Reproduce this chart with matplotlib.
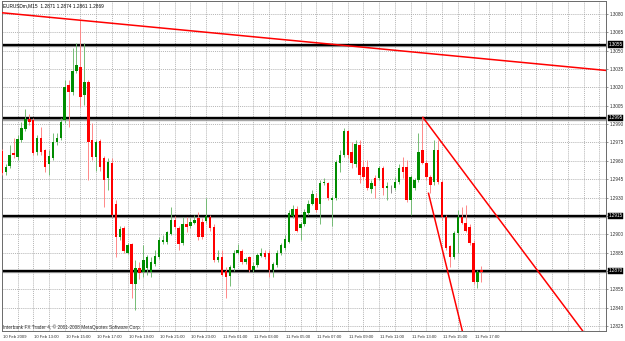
import matplotlib
matplotlib.use('Agg')
import matplotlib.pyplot as plt
import matplotlib.transforms as mtrans
import matplotlib.patheffects as pe
import numpy as np
import pandas as pd

# ---- data (EURUSDm, M15, starting 10 Feb 2009 11:00) ----
opens = [1.2968,1.2951,1.2956,1.2966,1.2963,1.2977,1.2986,1.2994,1.2993,1.2967,
         1.2979,1.2969,1.2957,1.2962,1.2975,1.2979,1.2993,1.3022,1.3016,1.3033,
         1.3037,1.3014,1.3024,1.2977,1.2963,1.2976,1.2962,1.2946,1.2958,1.2925,
         1.2898,1.2905,1.2885,1.2892,1.2859,1.2872,1.2869,1.2872,1.2869,1.2876,
         1.2881,1.2894,1.2894,1.2900,1.2912,1.2905,1.2893,1.2908,1.2907,1.2909,
         1.2913,1.2910,1.2911,1.2914,1.2906,1.2879,1.2881,1.2870,1.2866,1.2872,
         1.2885,1.2886,1.2877,1.2881,1.2871,1.2875,1.2882,1.2885,1.2885,1.2871,
         1.2875,1.2885,1.2889,1.2894,1.2915,1.2921,1.2905,1.2908,1.2917,1.2925,
         1.2930,1.2925,1.2942,1.2942,1.2928,1.2930,1.2958,1.2965,1.2984,1.2967,
         1.2957,1.2973,1.2955,1.2955,1.2937,1.2946,1.2946,1.2954,1.2938,1.2939,
         1.2938,1.2943,1.2955,1.2955,1.2928,1.2938,1.2944,1.2969,1.2958,1.2947,
         1.2943,1.2969,1.2943,1.2914,1.2890,1.2881,1.2901,1.2914,1.2909,1.2906,
         1.2893,1.2861,1.2871]
highs = [1.2970,1.2957,1.2973,1.2979,1.2981,1.2992,1.3002,1.2998,1.2995,1.2981,
         1.2988,1.2970,1.2969,1.2983,1.2983,1.2995,1.3026,1.3026,1.3052,1.3056,
         1.3075,1.3056,1.3026,1.2991,1.2977,1.2978,1.2964,1.2962,1.2962,1.2928,
         1.2907,1.2907,1.2893,1.2893,1.2879,1.2877,1.2891,1.2883,1.2881,1.2887,
         1.2898,1.2899,1.2903,1.2922,1.2915,1.2907,1.2914,1.2914,1.2913,1.2916,
         1.2918,1.2913,1.2930,1.2916,1.2908,1.2887,1.2887,1.2873,1.2875,1.2887,
         1.2892,1.2888,1.2881,1.2882,1.2877,1.2885,1.2889,1.2887,1.2887,1.2877,
         1.2887,1.2893,1.2899,1.2920,1.2924,1.2923,1.2910,1.2921,1.2928,1.2936,
         1.2934,1.2944,1.2946,1.2943,1.2931,1.2961,1.2969,1.2987,1.2985,1.2975,
         1.2977,1.2977,1.2961,1.2961,1.2944,1.2948,1.2956,1.2956,1.2943,1.2940,
         1.2947,1.2957,1.2963,1.2961,1.2948,1.2946,1.2983,1.2996,1.2961,1.2948,
         1.2977,1.2977,1.2944,1.2916,1.2891,1.2903,1.2920,1.2922,1.2924,1.2908,
         1.2895,1.2871,1.2874]
lows = [1.2948,1.2948,1.2954,1.2962,1.2961,1.2975,1.2984,1.2989,1.2965,1.2965,
        1.2965,1.2951,1.2948,1.2961,1.2973,1.2977,1.2991,1.2988,1.3014,1.3032,
        1.3004,1.3006,1.2944,1.2961,1.2952,1.2952,1.2922,1.2936,1.2914,1.2881,
        1.2895,1.2885,1.2884,1.2848,1.2838,1.2863,1.2865,1.2867,1.2865,1.2874,
        1.2880,1.2892,1.2892,1.2899,1.2904,1.2887,1.2891,1.2902,1.2905,1.2908,
        1.2895,1.2896,1.2909,1.2903,1.2877,1.2877,1.2866,1.2848,1.2858,1.2870,
        1.2884,1.2876,1.2876,1.2869,1.2869,1.2873,1.2881,1.2880,1.2865,1.2865,
        1.2873,1.2883,1.2887,1.2893,1.2913,1.2902,1.2895,1.2907,1.2916,1.2924,
        1.2918,1.2908,1.2940,1.2928,1.2907,1.2928,1.2951,1.2963,1.2962,1.2954,
        1.2955,1.2942,1.2944,1.2936,1.2934,1.2930,1.2944,1.2932,1.2928,1.2934,
        1.2936,1.2941,1.2946,1.2926,1.2916,1.2936,1.2943,1.2957,1.2944,1.2934,
        1.2940,1.2941,1.2912,1.2887,1.2873,1.2880,1.2885,1.2908,1.2902,1.2891,
        1.2859,1.2856,1.2861]
closes = [1.2950,1.2955,1.2965,1.2965,1.2978,1.2987,1.2994,1.2992,1.2966,1.2979,
          1.2967,1.2955,1.2964,1.2975,1.2979,1.2992,1.3020,1.3016,1.3033,1.3038,
          1.3012,1.3024,1.2975,1.2963,1.2975,1.2955,1.2944,1.2959,1.2916,1.2898,
          1.2904,1.2886,1.2891,1.2859,1.2872,1.2868,1.2879,1.2881,1.2877,1.2882,
          1.2895,1.2895,1.2902,1.2912,1.2906,1.2892,1.2908,1.2906,1.2910,1.2912,
          1.2898,1.2898,1.2915,1.2905,1.2879,1.2881,1.2867,1.2865,1.2873,1.2885,
          1.2887,1.2877,1.2880,1.2871,1.2874,1.2883,1.2885,1.2881,1.2871,1.2876,
          1.2885,1.2891,1.2896,1.2917,1.2921,1.2903,1.2908,1.2918,1.2925,1.2933,
          1.2920,1.2942,1.2943,1.2930,1.2930,1.2959,1.2965,1.2984,1.2965,1.2958,
          1.2974,1.2948,1.2947,1.2938,1.2942,1.2939,1.2954,1.2938,1.2939,1.2939,
          1.2943,1.2954,1.2951,1.2928,1.2947,1.2944,1.2967,1.2958,1.2947,1.2940,
          1.2969,1.2943,1.2914,1.2889,1.2881,1.2901,1.2914,1.2909,1.2903,1.2893,
          1.2861,1.2869,1.2869]

start_time = "2009-02-10 11:00"
h_levels = [1.3055, 1.2995, 1.2915, 1.2870]
price_ticks = [1.2825, 1.2840, 1.2855, 1.2870, 1.2885, 1.2900, 1.2915, 1.2930, 1.2945,
               1.2960, 1.2975, 1.2990, 1.3005, 1.3020, 1.3035, 1.3050, 1.3065, 1.3080]
# trend lines: (bar index, price) anchors
trend_a = [(0, 1.3081), (150, 1.3035)]
trend_b = [(107, 1.2996), (148, 1.2820)]
trend_c = [(108.5, 1.2934), (117.3, 1.2819)]
header = "EURUSDm,M15  1.2871 1.2874 1.2861 1.2869"
footer = "Interbank FX Trader 4, \u00a9 2001-2008 MetaQuotes Software Corp."

# ---- figure ----
W, H = 625, 341
fig = plt.figure(figsize=(W / 100, H / 100), dpi=100)
fig.patch.set_facecolor('white')
ax = fig.add_axes([2 / W, 10 / H, 604 / W, 330 / H])
ax.set_facecolor('white')

O = np.array(opens); Hh = np.array(highs); L = np.array(lows); C = np.array(closes)
n = len(O)
idx = np.arange(n)

XMAX = 153.7
ax.set_xlim(0.05, XMAX)
ax.set_ylim(1.28209, 1.30906)

# grid
grid_kw = dict(color='#9a9a9a', lw=0.5, ls=(0, (1.5, 1.5)), zorder=0)
for p in price_ticks:
    ax.axhline(p, **grid_kw)
for i in range(4, int(XMAX) + 1, 4):
    ax.axvline(i, **grid_kw)

# horizontal levels
for p in h_levels:
    ax.axhline(p, color='black', lw=1.7, zorder=2,
               path_effects=[pe.SimpleLineShadow(offset=(0, -1.1), shadow_color='#909090', alpha=0.8),
                             pe.Normal()])

# candles
up = C > O
dn = C < O
wick_col = np.where(up, '#6cb86c', np.where(dn, '#ff8080', '#808080'))
body_col = np.where(up, '#008c00', np.where(dn, '#ff0000', '#606060'))
ax.vlines(idx, L, Hh, colors=wick_col, lw=0.65, zorder=3)
bot = np.minimum(O, C)
hgt = np.maximum(np.abs(C - O), 0.00004)
ax.bar(idx, hgt, bottom=bot, width=0.62, color=body_col, linewidth=0, zorder=4)

# trend lines
def seg(anchors, x_from, x_to):
    (x0, y0), (x1, y1) = anchors
    s = (y1 - y0) / (x1 - x0)
    xs = np.array([x_from, x_to])
    return xs, y0 + s * (xs - x0)

for anchors, xf, xt in [(trend_a, -2, XMAX + 2), (trend_b, trend_b[0][0], 170),
                        (trend_c, trend_c[0][0], 130)]:
    xs, ys = seg(anchors, xf, xt)
    ax.plot(xs, ys, color='#ff0000', lw=1.1, zorder=5, solid_capstyle='butt')

# axes styling
for s in ax.spines.values():
    s.set_color('#6a6a6a'); s.set_linewidth(0.7)
ax.set_xticks([])
ax.yaxis.tick_right()
ax.set_yticks(price_ticks)
ax.set_yticklabels([f"{p:.4f}" for p in price_ticks])
ax.tick_params(axis='y', labelsize=3.3, length=1.5, width=0.5, pad=1.2,
               color='#6a6a6a', labelcolor='#303030')
for lab in ax.get_yticklabels():
    lab.set_family('Liberation Sans')

# level boxes on price axis
bt = mtrans.blended_transform_factory(ax.transAxes, ax.transData)
for p in h_levels:
    ax.text(1.004, p, f"{p:.4f}", transform=bt, ha='left', va='center',
            fontsize=3.3, family='Liberation Sans', color='white', zorder=10, clip_on=False,
            bbox=dict(boxstyle='square,pad=0.18', fc='black', ec='black', lw=0.3))

# time labels
times = pd.date_range(start_time, periods=n, freq='15min')
tt = mtrans.blended_transform_factory(ax.transData, ax.transAxes)
for i in range(0, n, 8):
    t = times[i]
    lab = t.strftime('%d %b %Y') if i == 0 else t.strftime('%d %b %H:%M')
    ax.text(i + 0.25, -0.012, lab, transform=tt, ha='left', va='top', fontsize=3.1,
            family='Liberation Sans', color='#303030', clip_on=False)

fig.text(3 / W, 1 - 5.5 / H, header, ha='left', va='center', fontsize=3.4,
         family='Liberation Sans', color='black')
fig.text(3 / W, 1 - 327 / H, footer, ha='left', va='center', fontsize=3.4,
         family='Liberation Sans', color='#303030')

fig.savefig('out.png', dpi=100, facecolor='white')
